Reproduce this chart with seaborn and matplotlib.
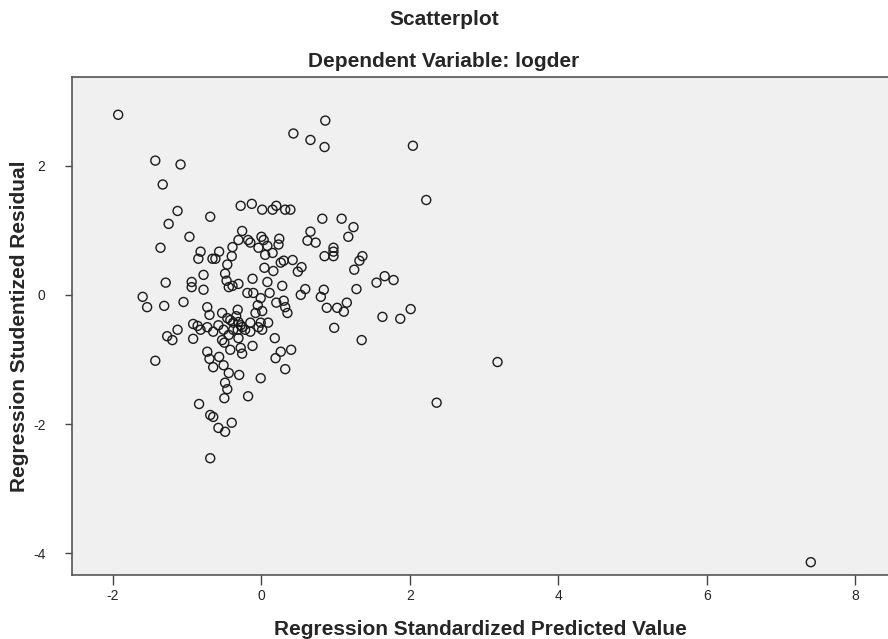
import matplotlib
matplotlib.use("Agg")
import matplotlib.pyplot as plt
import seaborn as sns
import pandas as pd

# Regression Standardized Predicted Value
pred = [
    -1.93, -1.43, -1.09, -1.33, -1.13, -1.25, -0.69, -0.97, -1.36, 0.43,
    0.66, 0.85, 0.86, 2.04, 2.22, 3.18, 2.36, 7.40, 2.01, 1.87,
    -0.28, -0.13, 0.01, 0.15, 0.20, 0.32, 0.39, 0.82, 1.08, 1.24,
    1.17, -0.26, -0.31, -0.18, -0.15, 0.00, 0.03, 0.24, 0.23, 0.08,
    -0.04, -0.39, -0.40, 0.15, 0.05, 0.66, 0.62, 0.73, 0.30, 0.26,
    0.42, 0.54, 0.49, 0.04, 0.16, -0.12, 0.85, 0.97, 0.97, 0.97,
    1.36, 1.32, 1.25, 0.08, 0.28, -0.31, 1.66, 1.55, 1.78, 0.59,
    0.84, 1.28, 0.53, 0.80, -0.57, -0.82, -0.85, -0.66, -0.62, -0.46,
    -0.78, -0.49, -0.47, -1.29, -0.94, -0.94, -0.78, -0.44, -0.39, -0.19,
    -0.11, -0.01, 0.11, -1.60, -1.54, -1.31, -1.05, -0.73, -0.70, -0.53,
    -0.46, -0.32, -0.34, -0.05, 0.01, -0.08, 0.20, 0.30, 0.32, 0.35,
    0.88, 1.02, 1.15, 1.11, 1.63, 0.98, 1.35, -1.13, -1.27, -1.20,
    -0.92, -0.86, -0.82, -0.92, -0.65, -0.58, -0.51, -0.38, -0.31, -0.26,
    -0.32, -0.53, -0.50, -0.44, -0.31, -0.15, -0.22, -0.01, 0.01, 0.09,
    -0.42, -0.12, -0.42, -0.28, -0.26, 0.18, 0.26, 0.40, 0.19, 0.32,
    -0.73, -0.70, -0.57, -0.65, -0.51, -0.44, -0.30, -0.01, -0.49, -0.46,
    -0.50, -0.18, -1.43, -0.84, -0.69, -0.65, -0.58, -0.40, -0.49, -0.69,
    -0.15, -0.04, -0.38, -0.28, -0.73,
]

# Regression Studentized Residual
resid = [
    2.79, 2.08, 2.02, 1.71, 1.30, 1.10, 1.21, 0.90, 0.73, 2.50,
    2.40, 2.29, 2.70, 2.31, 1.47, -1.04, -1.67, -4.14, -0.22, -0.37,
    1.38, 1.41, 1.32, 1.32, 1.38, 1.32, 1.32, 1.18, 1.18, 1.05,
    0.90, 0.99, 0.85, 0.85, 0.81, 0.90, 0.85, 0.87, 0.78, 0.76,
    0.73, 0.74, 0.60, 0.65, 0.62, 0.98, 0.84, 0.81, 0.53, 0.50,
    0.54, 0.43, 0.36, 0.42, 0.37, 0.25, 0.60, 0.73, 0.67, 0.60,
    0.60, 0.53, 0.39, 0.20, 0.14, 0.17, 0.29, 0.19, 0.23, 0.09,
    0.08, 0.09, 0.00, -0.03, 0.67, 0.67, 0.56, 0.56, 0.56, 0.47,
    0.31, 0.33, 0.22, 0.19, 0.20, 0.12, 0.08, 0.12, 0.14, 0.03,
    0.03, -0.05, 0.03, -0.03, -0.19, -0.17, -0.11, -0.19, -0.31, -0.28,
    -0.36, -0.23, -0.33, -0.16, -0.25, -0.28, -0.12, -0.09, -0.19, -0.28,
    -0.20, -0.20, -0.12, -0.26, -0.34, -0.51, -0.70, -0.54, -0.64, -0.70,
    -0.45, -0.48, -0.54, -0.68, -0.57, -0.47, -0.54, -0.43, -0.42, -0.50,
    -0.54, -0.70, -0.74, -0.62, -0.67, -0.57, -0.54, -0.43, -0.54, -0.43,
    -0.39, -0.79, -0.85, -0.82, -0.91, -0.67, -0.88, -0.85, -0.98, -1.15,
    -0.88, -0.99, -0.96, -1.12, -1.09, -1.21, -1.24, -1.29, -1.36, -1.46,
    -1.60, -1.57, -1.02, -1.69, -1.86, -1.89, -2.06, -1.98, -2.12, -2.53,
    -0.43, -0.50, -0.54, -0.47, -0.50,
]

x_ticks = [-2, 0, 2, 4, 6, 8]
y_ticks = [-4, -2, 0, 2]

df = pd.DataFrame({"pred": pred, "resid": resid})

sns.set_style("white")
plt.rcParams["font.family"] = ["Liberation Sans Narrow", "Liberation Sans", "DejaVu Sans"]
plt.rcParams["axes.unicode_minus"] = False

fig = plt.figure(figsize=(8.88, 6.39), dpi=100)
ax = fig.add_axes([0.081, 0.100, 0.919, 0.780])
ax.set_facecolor("#f0f0f0")

sns.scatterplot(data=df, x="pred", y="resid", ax=ax, s=42, marker="o",
                facecolor="none", edgecolor="#1a1a1a", linewidth=1.0)

ax.set_xlim(-2.553, 8.44)
ax.set_ylim(-4.34, 3.38)
ax.set_xticks(x_ticks)
ax.set_yticks(y_ticks)
ax.tick_params(axis="x", direction="out", length=7, width=1, color="#444444",
               labelsize=10, pad=3)
ax.tick_params(axis="y", direction="out", length=5, width=1, color="#444444",
               labelsize=10, pad=14)
ax.tick_params(bottom=True, left=True)

for side, sp in ax.spines.items():
    sp.set_color("#555555")
    sp.set_linewidth(1.2)
ax.spines["right"].set_visible(False)

ax.set_xlabel("Regression Standardized Predicted Value", fontsize=15,
              fontweight="bold", labelpad=12)
ax.set_ylabel("Regression Studentized Residual", fontsize=15,
              fontweight="bold", labelpad=3)

fig.text(0.5, 0.970, "Scatterplot", ha="center", va="center",
         fontsize=15, fontweight="bold")
fig.text(0.5, 0.903, "Dependent Variable: logder", ha="center", va="center",
         fontsize=15, fontweight="bold")

fig.savefig("out.png", dpi=100)
